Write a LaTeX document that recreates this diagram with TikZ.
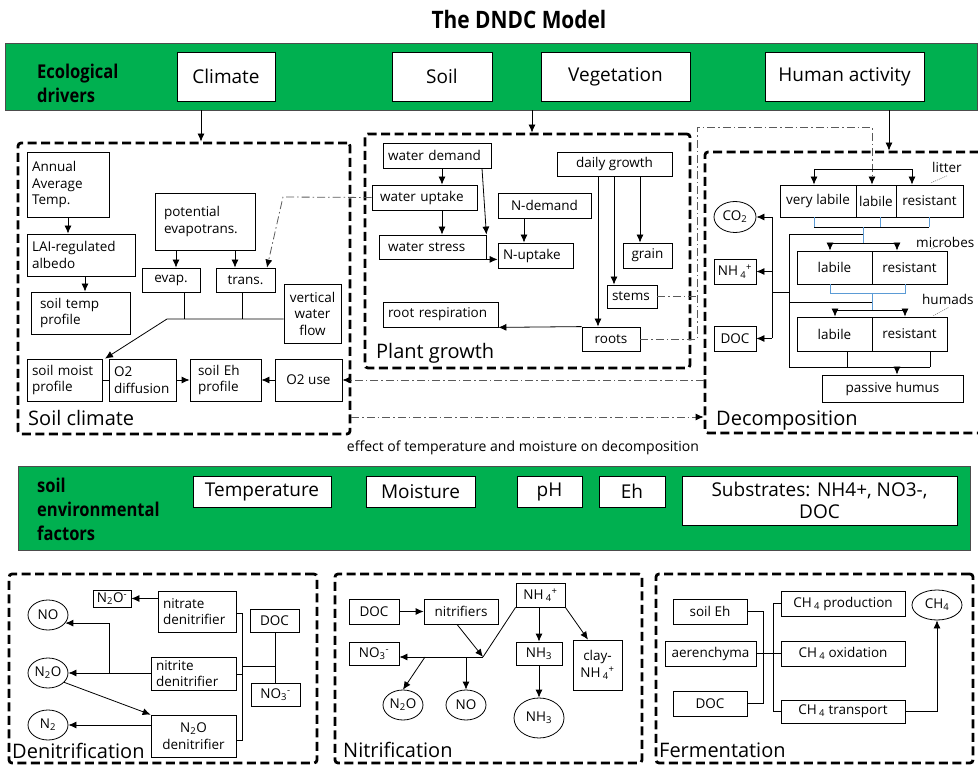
\documentclass[tikz,border=0pt]{standalone}
\usepackage{fontspec}
\setmainfont{Open Sans}
\newfontfamily\cond[FakeStretch=0.87]{Open Sans}
\usetikzlibrary{arrows.meta,shapes.geometric}
\definecolor{bandgreen}{RGB}{0,176,80}
\definecolor{ddgray}{RGB}{90,90,90}
\definecolor{lineblue}{RGB}{91,155,213}
\newcommand\bx[7][]{\pgfmathsetlengthmacro\bw{#5-#3}\pgfmathsetlengthmacro\bh{#6-#4}%
  \node[bx,minimum width=\bw,minimum height=\bh,#1] (#2) at ({(#3+#5)/2},{(#4+#6)/2}) {#7};}
\newcommand\bxl[7][]{\pgfmathsetlengthmacro\bw{#5-#3}\pgfmathsetlengthmacro\bh{#6-#4}\pgfmathsetlengthmacro\tw{#5-#3-10}%
  \node[bx,minimum width=\bw,minimum height=\bh,text width=\tw,inner xsep=5pt,align=left,#1] (#2) at ({(#3+#5)/2},{(#4+#6)/2}) {#7};}
\newcommand\el[6][]{\node[ell,minimum width=#4pt,minimum height=#5pt,#1] (#2) at (#3) {#6};}
\tikzset{
 bx/.style={draw,line width=0.8pt,inner sep=1pt,fill=white,align=center,font=\fontsize{13.5}{16.5}\selectfont},
 band/.style={draw=black!70,line width=0.8pt,fill=bandgreen,inner sep=0pt},
 bandbox/.style={font=\fontsize{19}{22}\selectfont},
 bandlab/.style={font=\cond\bfseries\fontsize{19}{24}\selectfont,align=left,anchor=west,inner sep=0pt},
 dbox/.style={draw,line width=2.8pt,dash pattern=on 9pt off 4.5pt,rounded corners=3pt,inner sep=0pt},
 sect/.style={font=\fontsize{20}{22}\selectfont,anchor=base west,inner sep=0pt},
 ln/.style={line width=0.8pt},
 arr/.style={ln,-{Latex[length=8pt,width=7pt]}},
 dd/.style={line width=0.8pt,draw=ddgray,dash pattern=on 8pt off 3pt on 1.5pt off 3pt},
 dda/.style={dd,-{Latex[length=8pt,width=7pt,color=black]}},
 blu/.style={line width=0.8pt,draw=lineblue},
 ell/.style={draw,ellipse,line width=0.8pt,inner sep=0pt,font=\fontsize{13.5}{16.5}\selectfont},
 tag/.style={font=\fontsize{13.5}{16.5}\selectfont,anchor=west,inner sep=0pt},
 lead/.style={line width=0.6pt,gray,dash pattern=on 1pt off 1pt},
}
\begin{document}
\begin{tikzpicture}[x=1pt,y=-1pt]
\useasboundingbox (0,0) rectangle (978,767);
% title
\node[font=\cond\bfseries\fontsize{24}{28}\selectfont] (title) at (519,20) {The DNDC Model};
% ecological drivers band
\bx[band]{eco}{5}{43}{977}{110}{}
\node[bandlab] (ecolab) at (37,83) {Ecological\\drivers};
\bx[bandbox]{climate}{177}{52}{275}{101}{Climate}
\bx[bandbox]{soil}{392}{52}{492}{101}{Soil}
\bx[bandbox]{veg}{541}{52}{690}{101}{Vegetation}
\bx[bandbox]{human}{765}{52}{924}{101}{Human activity}
% dashed section boxes
\bx[dbox,fill=none]{soilclim}{18}{143}{350}{434}{}
\bx[dbox,fill=none]{plant}{365}{134}{690}{368}{}
\bx[dbox,fill=none]{decomp}{705}{152}{995}{433}{}
\bx[dbox,fill=none]{denit}{9}{574}{317}{763}{}
\bx[dbox,fill=none]{nitr}{335}{574}{642}{763}{}
\bx[dbox,fill=none]{ferm}{656}{574}{973}{763}{}
% drivers arrows
\draw[arr] (eco.south -| 201,0) -- (soilclim.north -| 201,0);
\draw[arr] (eco.south -| 532,0) -- (plant.north -| 532,0);
\draw[arr] (eco.south -| 889,0) -- (decomp.north -| 889,0);
% ---------------- soil climate
\bxl{annual}{27}{152}{109}{217}{Annual\\Average\\Temp.}
\bxl{lai}{27}{234}{135}{276}{LAI-regulated\\albedo}
\bxl[inner xsep=9pt]{stemp}{35}{292}{126}{334}{soil temp\\profile}
\bxl[inner xsep=9pt]{pet}{159}{193}{251}{250}{potential\\evapotrans.}
\bx{evap}{142}{268}{200}{292}{evap.}
\bx{trans}{216}{268}{275}{292}{trans.}
\bx{vwf}{284}{284}{341}{343}{vertical\\water\\flow}
\bxl[inner xsep=2pt]{smoist}{27}{359}{102}{401}{soil moist\\profile}
\bxl[inner xsep=2pt]{o2d}{109}{359}{176}{401}{O2\\diffusion}
\bxl[inner xsep=8pt]{seh}{193}{359}{258}{401}{soil Eh\\profile}
\bx{o2u}{275}{359}{342}{401}{O2 use}
\node[sect] (lsoil) at (28,425) {Soil climate};
\draw[arr] (annual.south -| 68,0) -- (lai.north -| 68,0);
\draw[arr] (lai.south -| 85,0) -- (stemp.north -| 85,0);
\draw[arr] (pet.south -| 176,0) -- (evap.north -| 176,0);
\draw[arr] (pet.south -| 235,0) -- (trans.north -| 235,0);
\coordinate (wj) at (167,319);
\draw[ln] (evap.south -| 184,0) -- (184,319);
\draw[ln] (trans.south -| 242,0) -- (242,319);
\draw[arr] (vwf.west |- wj) -- (wj) -- (smoist.north -| 105,0);
\draw[ln] (smoist.east) -- (o2d.west);
\draw[arr] (o2d.east) -- (seh.west);
\draw[arr] (o2u.west) -- (seh.east);
\draw[dda] (decomp.west |- o2u.east) -- (o2u.east);
\draw[dda] (soilclim.east |- 0,417) -- (decomp.west |- 0,417);
% ---------------- plant growth
\bxl[inner xsep=2pt]{wdemand}{383}{143}{491}{168}{water demand}
\bxl[inner xsep=8pt]{wuptake}{375}{185}{474}{210}{water uptake}
\bxl[inner xsep=9pt]{wstress}{383}{235}{482}{259}{water stress}
\bx{ndemand}{498}{193}{591}{218}{N-demand}
\bxl[inner xsep=2pt]{nuptake}{498}{243}{573}{268}{N-uptake}
\bx{dgrowth}{557}{152}{672}{176}{daily growth}
\bx{grain}{623}{243}{672}{268}{grain}
\bxl[inner xsep=2pt]{stems}{607}{285}{657}{308}{stems}
\bxl[inner xsep=2pt]{rresp}{383}{302}{498}{327}{root respiration}
\bx{roots}{582}{327}{640}{351}{roots}
\node[sect] (lplant) at (376,359) {Plant growth};
\draw[dda] (wuptake.west) -- (283,197) -- (trans.north -| 267,0);
\draw[arr] (wdemand.south -| 442,0) -- (wuptake.north -| 442,0);
\draw[arr] (wuptake.south -| 442,0) -- (wstress.north -| 442,0);
\draw[arr] (wdemand.south -| 482,0) -- (wstress.north east);
\draw[arr] (wstress.south east) -- (nuptake.west |- wstress.south east);
\draw[arr] (ndemand.south -| 524,0) -- (nuptake.north -| 524,0);
\draw[arr] (dgrowth.south -| 640,0) -- (grain.north -| 640,0);
\draw[arr] (dgrowth.south -| 614,0) -- (stems.north -| 614,0);
\draw[arr] (dgrowth.south -| 598,0) -- (roots.north -| 598,0);
\draw[arr] (roots.north west) -- (rresp.south east);
% ---------------- decomposition
\bx{vlab}{780}{185}{856}{217}{very labile}
\bx{llab}{856}{185}{896}{217}{labile}
\bx{lres}{896}{185}{963}{217}{resistant}
\bx{mlab}{797}{251}{872}{284}{labile}
\bx{mres}{872}{251}{947}{284}{resistant}
\bx{hlab}{797}{317}{872}{351}{labile}
\bx{hres}{872}{317}{947}{351}{resistant}
\bx{passive}{822}{375}{963}{402}{passive humus}
\el{co2}{735,217}{42}{31}{CO\textsubscript{2}}
\bx{nh4}{714}{259}{756}{284}{NH\,\textsubscript{4}\textsuperscript{+}}
\bx{ddoc0}{714}{326}{756}{351}{DOC}
\node[sect] (ldecomp) at (716,425) {Decomposition};
\node[tag] (tlitter) at (932,167) {litter};
\node[tag] (tmicro) at (916,242) {microbes};
\node[tag] (thumads) at (922,299) {humads};
\draw[lead] (lres.north east) ++(-32,-2) -- ++(16,-7);
\draw[lead] (mres.north east) ++(-16,-2) -- ++(14,-6);
\draw[lead] (hres.north east) ++(-14,-1) -- ++(15,-8);
\draw[dd] (stems.east) -- (697,296.5);
\draw[dda] (roots.east) -- (697,339) -- (697,127) -- (872,127) -- (llab.north -| 872,0);
\draw[arr] (814,169) -- (vlab.north -| 814,0);
\draw[arr] (814,169) -| (lres.north -| 912,0);
\draw[blu] (vlab.south -| 814,0) -- (814,227);
\draw[blu] (llab.south -| 880,0) -- (880,227);
\draw[blu] (lres.south -| 929,0) -- (929,227);
\draw[ln] (814,227) -- (929,227);
\draw[blu] (863,227) -- (863,243);
\draw[arr] (830,243) -- (mlab.north -| 830,0);
\draw[arr] (830,243) -| (mres.north -| 897,0);
\draw[blu] (mlab.south -| 830,0) -- (830,293) -- (905,293) -- (mres.south -| 905,0);
\draw[blu] (872,293) -- (872,310);
\draw[arr] (835,310) -- (hlab.north -| 835,0);
\draw[arr] (835,310) -| (hres.north -| 905,0);
\draw[ln] (hlab.south -| 847,0) -- (847,367);
\draw[ln] (hres.south -| 930,0) -- (930,367);
\draw[ln] (863,234) -- (789,234) -- (789,367) -- (930,367);
\draw[ln] (789,302) -- (872,302);
\draw[arr] (897,367) -- (passive.north -| 897,0);
\draw[ln] (789,292) -- (772,292);
\draw[ln] (772,217) -- (772,338.5);
\draw[arr] (772,217) -- (co2.east);
\draw[arr] (772,271.5) -- (nh4.east);
\draw[arr] (772,338.5) -- (ddoc0.east);
% effect label
\node[font=\fontsize{14}{16}\selectfont] (effect) at (523,448) {effect of temperature and moisture on decomposition};
% ---------------- soil environmental factors band
\bx[band]{env}{18}{466}{970}{550}{}
\node[bandlab] (envlab) at (37,509) {soil\\environmental\\factors};
\bx[bandbox]{temp}{193}{476}{331}{507}{Temperature}
\bx[bandbox]{moist}{366}{476}{475}{507}{Moisture}
\bx[bandbox]{ph}{517}{476}{582}{507}{pH}
\bx[bandbox]{eh}{599}{476}{665}{507}{Eh}
\bx[bandbox]{subs}{682}{476}{957}{525}{Substrates: NH4+, NO3-,\\DOC}
% ---------------- denitrification
\bx{n2om}{93}{590}{131}{607}{N\textsubscript{2}O\textsuperscript{-}}
\bxl[inner xsep=2pt]{nitrate}{158}{591}{236}{632}{nitrate\\denitrifier}
\bx{dndoc}{250}{609}{299}{632}{DOC}
\bxl[inner xsep=2pt]{nitrite}{151}{657}{236}{690}{nitrite\\denitrifier}
\bx{dno3}{251}{683}{300}{706}{NO\textsubscript{3}\textsuperscript{-}}
\bx{n2oden}{151}{715}{236}{757}{N\textsubscript{2}O\\denitrifier}
\el{dno}{48,615}{40}{30}{NO}
\el{dn2o}{48,673}{40}{30}{N\textsubscript{2}O}
\el{dn2}{48,725}{40}{30}{N\textsubscript{2}}
\node[sect] (ldenit) at (12,758) {Denitrification};
\draw[arr] (nitrate.west |- n2om.east) -- (n2om.east);
\draw[ln] (nitrate.east |- 0,613) -- (242,613) -- (242,740) -- (n2oden.east |- 0,740);
\draw[ln] (nitrite.east |- 0,674) -- (242,674);
\draw[ln] (242,666) -- (275,666);
\draw[ln] (dndoc.south -| 275,0) -- (dno3.north -| 275,0);
\draw[arr] (nitrite.west |- dn2o.east) -- (dn2o.east);
\draw[arr] (109,673) |- (dno.-25);
\draw[arr] (dn2o.-30) -- (n2oden.north west);
\draw[arr] (n2oden.west |- dn2.east) -- (dn2.east);
% ---------------- nitrification
\bx{ndoc}{349}{599}{399}{624}{DOC}
\bx{nitrifiers}{424}{599}{498}{624}{nitrifiers}
\bx{nnh4}{516}{583}{565}{607}{NH\,\textsubscript{4}\textsuperscript{+}}
\bx{nno3}{349}{642}{399}{665}{NO\textsubscript{3}\textsuperscript{-}}
\bx{nnh3}{516}{642}{562}{665}{NH\textsubscript{3}}
\bx{clay}{573}{640}{622}{690}{clay-\\NH\,\textsubscript{4}\textsuperscript{+}}
\el{nn2o}{403,705}{40}{30}{N\textsubscript{2}O}
\el{nno}{466,705}{40}{30}{NO}
\el{nnh3e}{539,718}{50}{40}{NH\textsubscript{3}}
\node[sect] (lnitr) at (343,757) {Nitrification};
\coordinate (nj) at (483,657);
\draw[arr] (ndoc.east) -- (nitrifiers.west);
\draw[arr] (nitrifiers.south -| 457,0) -- (nj);
\draw[ln] (nnh4.south west) -- (nj);
\draw[arr] (nj) -- (nno3.east |- nj);
\draw[arr] (425,657) -- (nn2o.north);
\draw[arr] (466,657) -- (nno.north);
\draw[arr] (nnh4.south -| 539,0) -- (nnh3.north -| 539,0);
\draw[arr] (nnh4.south east) -- (clay.north -| 588,0);
\draw[arr] (nnh3.south -| 539,0) -- (nnh3e.north);
% ---------------- fermentation
\bx{seh2}{673}{599}{747}{624}{soil Eh}
\bx{aer}{665}{641}{756}{666}{aerenchyma}
\bx{fdoc}{673}{691}{747}{716}{DOC}
\bx{ch4p}{781}{591}{905}{616}{CH\,\textsubscript{4} production}
\bx{ch4o}{781}{641}{905}{666}{CH\,\textsubscript{4} oxidation}
\bx{ch4t}{781}{700}{905}{723}{CH\,\textsubscript{4} transport}
\el{ch4e}{937,605}{50}{30}{CH\textsubscript{4}}
\node[sect] (lferm) at (659,757) {Fermentation};
\draw[ln] (seh2.east) -- (seh2.east -| 763,0) -- (fdoc.east -| 763,0) -- (fdoc.east);
\draw[ln] (ch4p.west) -- (ch4p.west -| 773,0) -- (ch4t.west -| 773,0) -- (ch4t.west);
\draw[ln] (aer.east) -- (ch4o.west);
\draw[arr] (ch4t.east) -| (ch4e.south);
\end{tikzpicture}
\end{document}
